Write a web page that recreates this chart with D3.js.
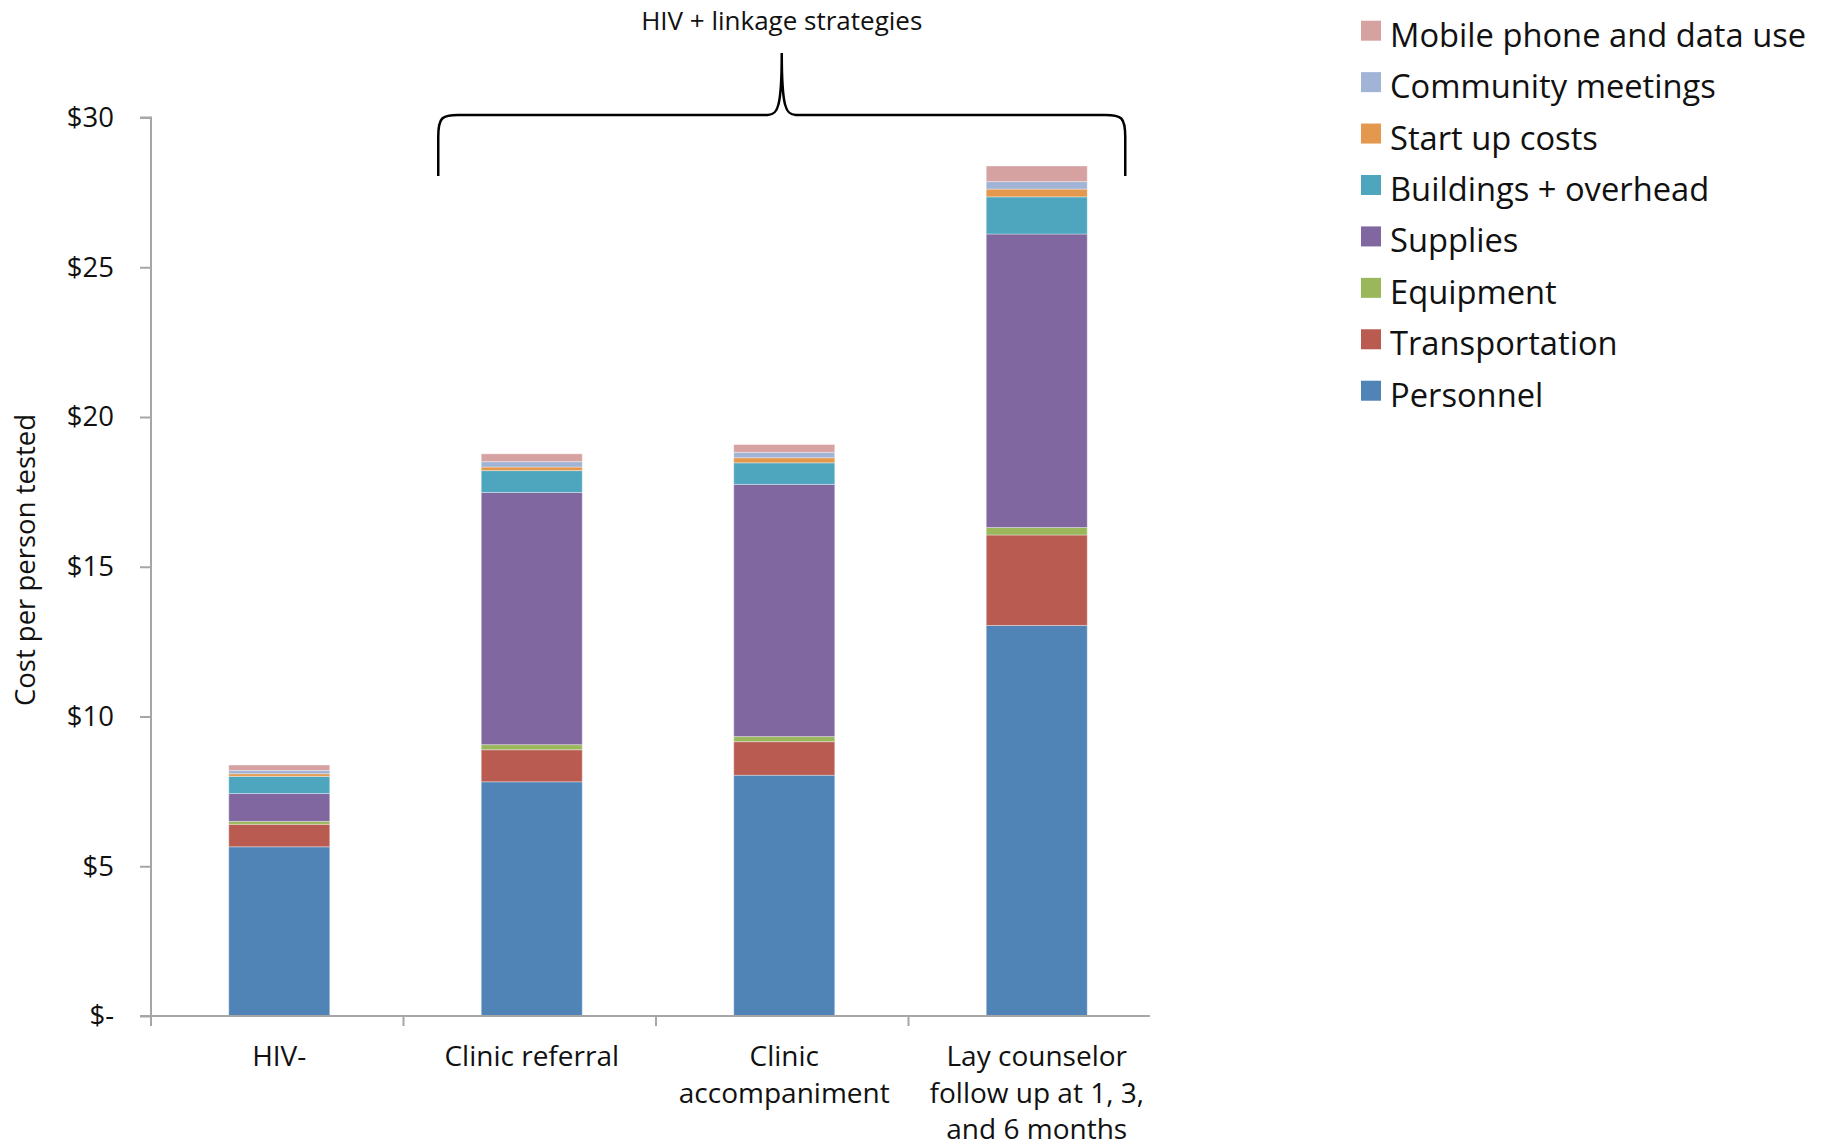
<!DOCTYPE html>
<html>
<head>
<meta charset="utf-8">
<script src="https://cdn.jsdelivr.net/npm/d3@7"></script>
<style>
  html, body { margin: 0; padding: 0; background: #fff; }
  svg { display: block; font-family: "Open Sans", "DejaVu Sans", sans-serif; }
</style>
</head>
<body>
<script>
// Cost components per person tested (USD), one value per strategy
const categories = ["HIV-", "Clinic referral", "Clinic accompaniment", "Lay counselor follow up at 1, 3, and 6 months"];
const categoryLines = [["HIV-"], ["Clinic referral"], ["Clinic", "accompaniment"], ["Lay counselor", "follow up at 1, 3,", "and 6 months"]];

const personnel      = [5.65, 7.82, 8.04, 13.04];
const transportation = [0.75, 1.07, 1.12, 3.02];
const equipment      = [0.10, 0.17, 0.17, 0.25];
const supplies       = [0.93, 8.42, 8.42, 9.80];
const buildings      = [0.57, 0.73, 0.72, 1.24];
const startUp        = [0.09, 0.12, 0.17, 0.26];
const community      = [0.11, 0.18, 0.18, 0.25];
const mobile         = [0.18, 0.26, 0.26, 0.52];

const seriesNames = ["Personnel", "Transportation", "Equipment", "Supplies",
  "Buildings + overhead", "Start up costs", "Community meetings", "Mobile phone and data use"];
const seriesValues = [personnel, transportation, equipment, supplies, buildings, startUp, community, mobile];
const seriesColors = ["#5083b6", "#b95b50", "#9bb75b", "#80679f", "#4ea6be", "#e3984e", "#a2b4d6", "#d6a1a1"];

const yTickValues = [0, 5, 10, 15, 20, 25, 30];
const yTickLabels = ["$-", "$5", "$10", "$15", "$20", "$25", "$30"];
const yTitle = "Cost per person tested";
const groupTitle = "HIV + linkage strategies";

const W = 1824, H = 1147;
const svg = d3.select("body").append("svg").attr("width", W).attr("height", H);
svg.append("rect").attr("width", W).attr("height", H).attr("fill", "#fff");

const plot = { left: 151, right: 1161, top: 117.5, bottom: 1016 };

// rows for the stack
const rows = categories.map((c, i) => {
  const r = { category: c };
  seriesNames.forEach((s, k) => { r[s] = seriesValues[k][i]; });
  return r;
});
const stacked = d3.stack().keys(seriesNames)(rows);

const x = d3.scaleBand().domain(categories).range([plot.left + 2, plot.right + 2]).paddingInner(0.6).paddingOuter(0.3);
const y = d3.scaleLinear().domain([0, 30]).range([plot.bottom, plot.top]);
const color = d3.scaleOrdinal().domain(seriesNames).range(seriesColors);

// bars
const layers = svg.append("g").selectAll("g").data(stacked).join("g")
  .attr("fill", d => color(d.key));
layers.selectAll("rect").data(d => d).join("rect")
  .attr("x", d => x(d.data.category))
  .attr("width", x.bandwidth())
  .attr("y", d => y(d[1]))
  .attr("height", d => y(d[0]) - y(d[1]))
  .attr("stroke", "rgba(255,255,255,0.35)")
  .attr("stroke-width", 1);

const axisColor = "#a6a6a6";

// y axis
const yAxis = svg.append("g").attr("transform", `translate(${plot.left},0)`)
  .call(d3.axisLeft(y).tickValues(yTickValues).tickFormat((d, i) => yTickLabels[i]).tickSize(11).tickPadding(26));
yAxis.select(".domain").attr("stroke", axisColor).attr("stroke-width", 2)
  .attr("d", `M-11,${plot.top}H0V${plot.bottom}`);
yAxis.selectAll(".tick line").attr("stroke", axisColor).attr("stroke-width", 2);
yAxis.selectAll(".tick text").attr("font-size", 27.5).attr("fill", "#111")
  .attr("font-family", "'Open Sans', sans-serif");

// x axis
const bandStep = x.step();
const xTicks = d3.range(categories.length).map(i => plot.left + i * bandStep);
const xAxis = svg.append("g");
xAxis.append("line").attr("x1", plot.left - 11).attr("x2", plot.right - 11)
  .attr("y1", plot.bottom).attr("y2", plot.bottom)
  .attr("stroke", axisColor).attr("stroke-width", 2);
xAxis.selectAll("line.t").data(xTicks).join("line").attr("class", "t")
  .attr("x1", d => d).attr("x2", d => d)
  .attr("y1", plot.bottom).attr("y2", plot.bottom + 10)
  .attr("stroke", axisColor).attr("stroke-width", 2);
const catLabels = xAxis.selectAll("text").data(categories).join("text")
  .attr("text-anchor", "middle")
  .attr("font-size", 28).attr("fill", "#111");
catLabels.each(function (d, i) {
  const t = d3.select(this);
  categoryLines[i].forEach((line, j) => {
    t.append("tspan").attr("x", x(d) + x.bandwidth() / 2)
      .attr("y", 1066 + j * 36.5).text(line);
  });
});

// y title
svg.append("text")
  .attr("transform", "translate(35,560) rotate(-90)")
  .attr("text-anchor", "middle").attr("font-size", 27.5).attr("fill", "#111")
  .text(yTitle);

// brace over the linkage strategies
const bx0 = x(categories[1]) - 43, bx1 = x(categories[3]) + x.bandwidth() + 38;
const bmid = (bx0 + bx1) / 2;
const bTop = 115, bBot = 176, bPeak = 53, r = 16;
const brace = d3.path();
brace.moveTo(bx0, bBot);
brace.lineTo(bx0, bTop + r + 6);
brace.bezierCurveTo(bx0, bTop + 2, bx0 + 4, bTop, bx0 + r + 4, bTop);
brace.lineTo(bmid - 14, bTop);
brace.bezierCurveTo(bmid - 4, bTop, bmid, bTop - 8, bmid, bPeak);
brace.bezierCurveTo(bmid, bTop - 8, bmid + 4, bTop, bmid + 14, bTop);
brace.lineTo(bx1 - r - 4, bTop);
brace.bezierCurveTo(bx1 - 4, bTop, bx1, bTop + 2, bx1, bTop + r + 6);
brace.lineTo(bx1, bBot);
svg.append("path").attr("d", brace.toString())
  .attr("fill", "none").attr("stroke", "#000").attr("stroke-width", 2.5);

svg.append("text").attr("x", bmid).attr("y", 30)
  .attr("text-anchor", "middle").attr("font-size", 26).attr("fill", "#111")
  .text(groupTitle);

// legend (top entry is the top of the stack)
const legendOrder = seriesNames.slice().reverse();
const legend = svg.append("g").attr("transform", "translate(1361,20.7)");
const items = legend.selectAll("g").data(legendOrder).join("g")
  .attr("transform", (d, i) => `translate(0,${i * 51.43})`);
items.append("rect").attr("width", 20).attr("height", 20).attr("fill", d => color(d));
items.append("text").attr("x", 29).attr("y", 26)
  .attr("font-size", 32.7).attr("fill", "#111").text(d => d);
</script>
</body>
</html>
